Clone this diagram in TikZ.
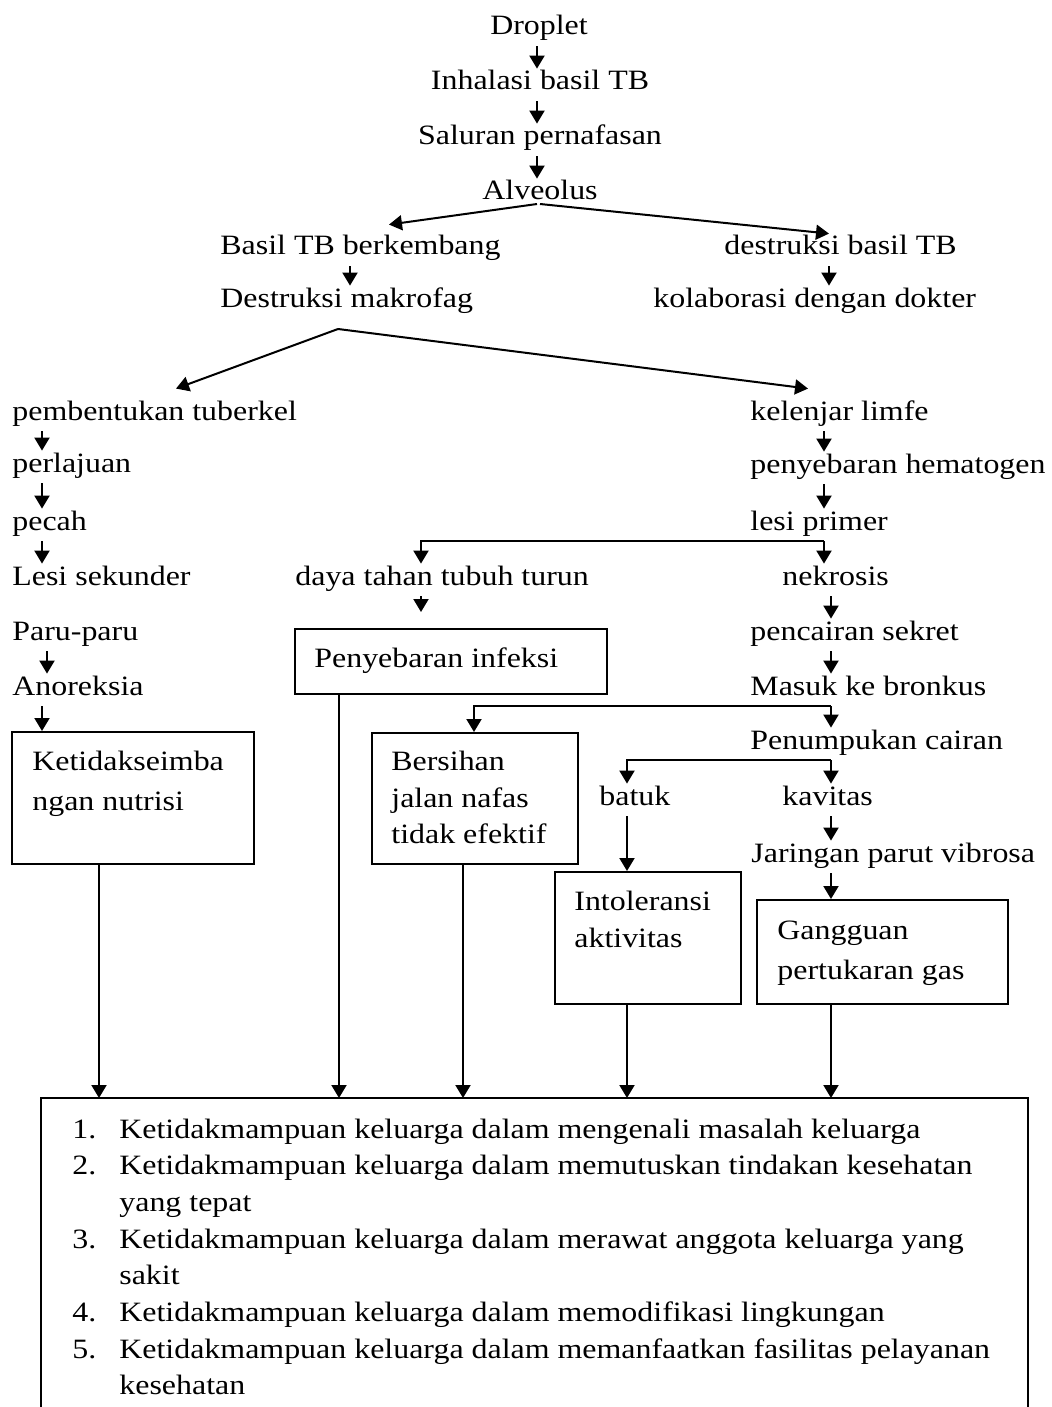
\documentclass[tikz,border=0pt]{standalone}
\usepackage{fontspec}
\setmainfont{Liberation Serif}[FakeStretch=1.14]
\usetikzlibrary{arrows.meta,calc}
\begin{document}
\begin{tikzpicture}[x=0.5pt,y=-0.5pt,
  font=\fontsize{14pt}{18.35pt}\selectfont,
  tx/.style={inner sep=0pt, text height=10.5pt, text depth=5.5pt, anchor=base west},
  tc/.style={inner sep=0pt, text height=10.5pt, text depth=5.5pt, anchor=base},
  bx/.style={draw, line width=1pt, inner sep=0pt, anchor=north west},
  arr/.style={-{Triangle[width=7.5pt,length=6.5pt]}, line width=1pt},
  bline/.style={line width=1pt}]
\useasboundingbox (0,0) rectangle (1051,1407);

% column coordinates
\coordinate (cA) at (537,0);
\coordinate (cB) at (350,0);
\coordinate (cC) at (829,0);
\coordinate (cBl) at (389,0);
\coordinate (cL) at (42,0);
\coordinate (cL2) at (47,0);
\coordinate (cR) at (824,0);
\coordinate (cD) at (421,0);
\coordinate (cN) at (831,0);
\coordinate (cBer) at (474,0);
\coordinate (cBat) at (627,0);
\coordinate (cK) at (99,0);
\coordinate (cP) at (339,0);
\coordinate (cBo) at (463,0);
\coordinate (cPt) at (176,0);
\coordinate (cKl) at (808,0);
\coordinate (dmj) at (338,329);

% top chain
\node[tc] (drop) at (539,35) {Droplet};
\node[tc] (inh) at (540,90) {Inhalasi basil TB};
\node[tc] (sal) at (540,145) {Saluran pernafasan};
\node[tc] (alv) at (540,200) {Alveolus};
\node[tx] (bt) at (220,255) {Basil TB berkembang};
\node[tx] (db) at (724,255) {destruksi basil TB};
\node[tx] (dm) at (220,307) {Destruksi makrofag};
\node[tx] (kol) at (653,307) {kolaborasi dengan dokter};

% left chain
\node[tx] (pt) at (12,420) {pembentukan tuberkel};
\node[tx] (perl) at (12,472) {perlajuan};
\node[tx] (pec) at (12,530) {pecah};
\node[tx] (ls) at (12,585) {Lesi sekunder};
\node[tx] (pp) at (12,640) {Paru-paru};
\node[tx] (ano) at (12,695) {Anoreksia};

% right chain
\node[tx] (kl) at (750,420) {kelenjar limfe};
\node[tx] (ph) at (750,473) {penyebaran hematogen};
\node[tx] (lp) at (750,530) {lesi primer};
\node[tx] (daya) at (295,585) {daya tahan tubuh turun};
\node[tx] (nek) at (782,585) {nekrosis};
\node[tx] (pcs) at (750,640) {pencairan sekret};
\node[tx] (mkb) at (750,695) {Masuk ke bronkus};
\node[tx] (pc) at (750,749) {Penumpukan cairan};
\node[tx] (bat) at (599,805) {batuk};
\node[tx] (kav) at (782,805) {kavitas};
\node[tx] (jar) at (751,862) {Jaringan parut vibrosa};

% boxes
\node[bx, minimum width=156pt, minimum height=32.5pt] (bPeny) at (294,628) {};
\node[tx] (tPeny) at (314,667) {Penyebaran infeksi};
\node[bx, minimum width=121pt, minimum height=66pt] (bKet) at (11,731) {};
\node[tx] (tKet1) at (32,770) {Ketidakseimba};
\node[tx] (tKet2) at (32,810) {ngan nutrisi};
\node[bx, minimum width=103pt, minimum height=65.5pt] (bBer) at (371,732) {};
\node[tx] (tBer1) at (391,770) {Bersihan};
\node[tx] (tBer2) at (391,807) {jalan nafas};
\node[tx] (tBer3) at (391,843) {tidak efektif};
\node[bx, minimum width=93pt, minimum height=66pt] (bInt) at (554,871) {};
\node[tx] (tInt1) at (574,910) {Intoleransi};
\node[tx] (tInt2) at (574,947) {aktivitas};
\node[bx, minimum width=125.5pt, minimum height=52pt] (bGan) at (756,899) {};
\node[tx] (tGan1) at (777,939) {Gangguan};
\node[tx] (tGan2) at (777,979) {pertukaran gas};

% bottom open box
\node[inner sep=0pt, minimum width=493pt, minimum height=154.5pt, anchor=north west] (bot) at (41,1098) {};
\draw[bline] (bot.south west) |- (bot.north east) -- (bot.south east);
\node[inner sep=0pt, anchor=base west] (lst) at (72,1138) {%
\begin{tabular}[t]{@{}p{23.5pt}@{}l@{}}
1. & Ketidakmampuan keluarga dalam mengenali masalah keluarga\\
2. & Ketidakmampuan keluarga dalam memutuskan tindakan kesehatan\\
   & yang tepat\\
3. & Ketidakmampuan keluarga dalam merawat anggota keluarga yang\\
   & sakit\\
4. & Ketidakmampuan keluarga dalam memodifikasi lingkungan\\
5. & Ketidakmampuan keluarga dalam memanfaatkan fasilitas pelayanan\\
   & kesehatan
\end{tabular}};

% connectors
\draw[arr] (drop.south -| cA) -- (inh.north -| cA);
\draw[arr] (inh.south -| cA) -- (sal.north -| cA);
\draw[arr] (sal.south -| cA) -- (alv.north -| cA);
\draw[arr] ($(alv.base)+(-3,4)$) -- ($(bt.north -| cBl)+(0,-9)$);
\draw[arr] ($(alv.base)+(0,4)$) -- (db.north -| cC);
\draw[arr] (bt.south -| cB) -- (dm.north -| cB);
\draw[arr] (db.south -| cC) -- (kol.north -| cC);
\draw[arr] (dmj) -- ($(pt.north -| cPt)+(0,-10)$);
\draw[arr] (dmj) -- ($(kl.north -| cKl)+(0,-10)$);

\draw[arr] (pt.south -| cL) -- (perl.north -| cL);
\draw[arr] (perl.south -| cL) -- (pec.north -| cL);
\draw[arr] (pec.south -| cL) -- (ls.north -| cL);
\draw[arr] (pp.south -| cL2) -- (ano.north -| cL2);
\draw[arr] (ano.south -| cL) -- (bKet.north -| cL);

\draw[arr] (kl.south -| cR) -- (ph.north -| cR);
\draw[arr] (ph.south -| cR) -- (lp.north -| cR);
\draw[arr] (lp.south -| cR) -- (nek.north -| cR);
\draw[arr] (lp.south -| cR) -| (daya.north -| cD);
\draw[arr, shorten >=8pt] (daya.south -| cD) -- (bPeny.north -| cD);
\draw[arr] (nek.south -| cN) -- (pcs.north -| cN);
\draw[arr] (pcs.south -| cN) -- (mkb.north -| cN);
\draw[arr] (mkb.south -| cN) -- (pc.north -| cN);
\draw[arr] (mkb.south -| cN) -| (bBer.north -| cBer);
\draw[arr] (pc.south -| cN) -- (kav.north -| cN);
\draw[arr] (pc.south -| cN) -| (bat.north -| cBat);
\draw[arr] (bat.south -| cBat) -- (bInt.north -| cBat);
\draw[arr] (kav.south -| cN) -- (jar.north -| cN);
\draw[arr] (jar.south -| cN) -- (bGan.north -| cN);

\draw[arr] (bKet.south -| cK) -- (bot.north -| cK);
\draw[arr] (bPeny.south -| cP) -- (bot.north -| cP);
\draw[arr] (bBer.south -| cBo) -- (bot.north -| cBo);
\draw[arr] (bInt.south -| cBat) -- (bot.north -| cBat);
\draw[arr] (bGan.south -| cN) -- (bot.north -| cN);
\end{tikzpicture}
\end{document}
